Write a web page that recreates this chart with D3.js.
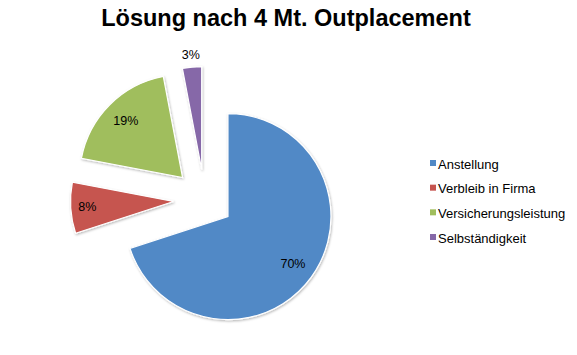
<!DOCTYPE html>
<html><head><meta charset="utf-8">
<script src="https://cdn.jsdelivr.net/npm/d3@7"></script>
<style>body{margin:0;background:#fff;} svg{display:block;}</style>
</head><body>
<svg id="c" width="577" height="355"></svg>
<script>
const title = "Lösung nach 4 Mt. Outplacement";
const categories = ["Anstellung", "Verbleib in Firma", "Versicherungsleistung", "Selbständigkeit"];
const values = [70, 8, 19, 3];
const colors = ["#5189C6", "#C6544F", "#A0BE5D", "#8668A8"];
const explode = [29, 31, 31, 30];
const labelRadius = [0.78, 0.84, 0.78, 1.12];

const svg = d3.select("#c");
const font = "'Liberation Sans', Arial, Helvetica, sans-serif";
const defs = svg.append("defs");
const f = defs.append("filter").attr("id","sh").attr("x","-20%").attr("y","-20%").attr("width","140%").attr("height","140%");
f.append("feDropShadow").attr("dx",0.8).attr("dy",1.2).attr("stdDeviation",1.2).attr("flood-color","#000").attr("flood-opacity",0.28);

svg.append("text").attr("x", 286).attr("y", 26).attr("text-anchor","middle")
  .attr("font-family", font).attr("font-weight","bold").attr("font-size", 23.5).attr("fill","#000").text(title);

const cx = 204.5, cy = 199.5, R = 103;
const pie = d3.pie().sort(null).value(d => d)(values);
const arc = d3.arc().innerRadius(0).outerRadius(R);
const g = svg.append("g").attr("transform", `translate(${cx},${cy})`);

const slices = g.selectAll("g.s").data(pie).join("g").attr("class","s")
  .attr("transform", (d,i) => {
    const m = (d.startAngle + d.endAngle)/2;
    return `translate(${explode[i]*Math.sin(m)},${-explode[i]*Math.cos(m)})`;
  });
slices.append("path").attr("d", arc).attr("fill", (d,i) => colors[i])
  .attr("stroke","#fff").attr("stroke-width",1.2).attr("filter","url(#sh)");
slices.append("text")
  .attr("x", (d,i) => { const m=(d.startAngle+d.endAngle)/2; return R*labelRadius[i]*Math.sin(m); })
  .attr("y", (d,i) => { const m=(d.startAngle+d.endAngle)/2; return -R*labelRadius[i]*Math.cos(m) + 4; })
  .attr("text-anchor","middle").attr("font-family", font).attr("font-size", 12.5).attr("fill","#000")
  .text((d,i) => values[i] + "%");

const legendY = d3.scalePoint().domain(categories).range([164, 238]);
const lg = svg.append("g");
const items = lg.selectAll("g").data(categories).join("g")
  .attr("transform", d => `translate(430,${legendY(d)})`);
items.append("rect").attr("x",0).attr("y",-4).attr("width",6).attr("height",6).attr("fill",(d,i)=>colors[i]);
items.append("text").attr("x",8).attr("y",4.5).attr("font-family",font).attr("font-size",13).attr("fill","#000").text(d=>d);
</script>
</body></html>
